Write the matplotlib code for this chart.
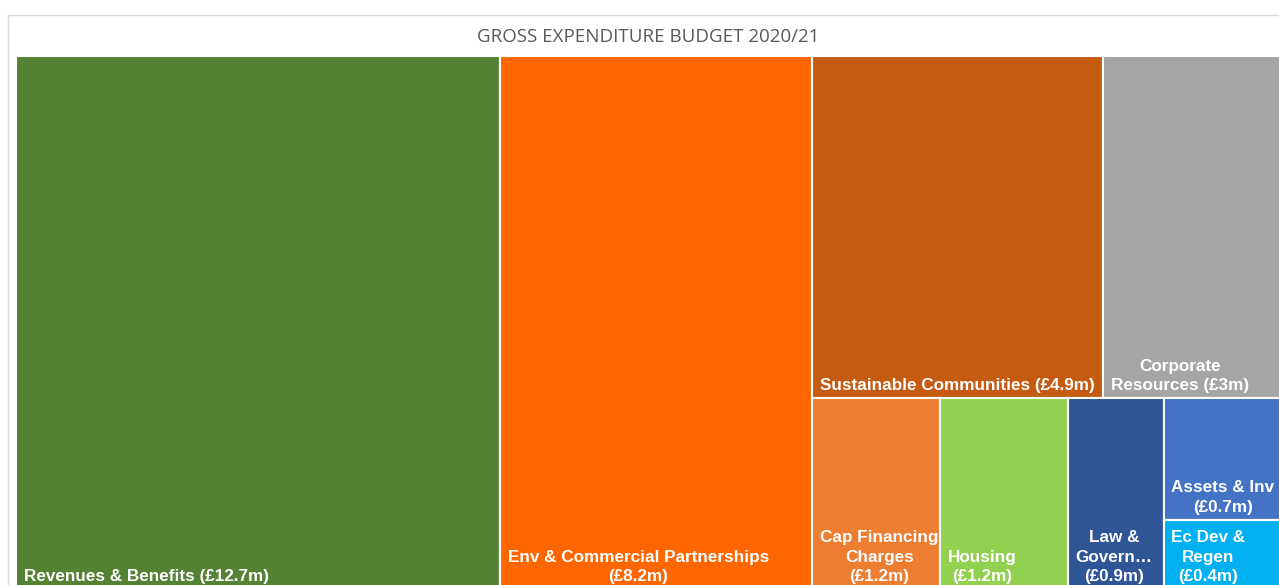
import matplotlib.pyplot as plt
from matplotlib.patches import Rectangle

# Gross expenditure budget 2020/21 by service area, £m
title = 'GROSS EXPENDITURE BUDGET 2020/21'
services = ['Revenues & Benefits', 'Env & Commercial Partnerships', 'Sustainable Communities',
            'Corporate Resources', 'Cap Financing Charges', 'Housing', 'Law & Governance',
            'Assets & Inv', 'Ec Dev & Regen']
spend = [12.7, 8.2, 4.9, 3.0, 1.2, 1.2, 0.9, 0.7, 0.4]
# labels as Excel wrapped them in the tiles
labels = ['Revenues & Benefits (£12.7m)', 'Env & Commercial Partnerships\n(£8.2m)',
          'Sustainable Communities (£4.9m)', 'Corporate\nResources (£3m)',
          'Cap Financing\nCharges\n(£1.2m)', 'Housing\n(£1.2m)', 'Law &\nGovern…\n(£0.9m)',
          'Assets & Inv\n(£0.7m)', 'Ec Dev &\nRegen\n(£0.4m)']
colours = ['#548235', '#FF6600', '#C55A11', '#A5A5A5', '#ED7D31', '#92D050', '#2F5597',
           '#4472C4', '#00B0F0']


def squarify(values, x, y, w, h):
    # plain squarified treemap, y grows downwards
    scale = w * h / sum(values)
    areas = [v * scale for v in values]

    def worst(row, side):
        s = sum(row)
        return max(max(side * side * r / (s * s), s * s / (side * side * r)) for r in row)

    rects = []
    i = 0
    while i < len(areas):
        side = min(w, h)
        row = [areas[i]]
        i += 1
        while i < len(areas) and worst(row + [areas[i]], side) <= worst(row, side):
            row.append(areas[i])
            i += 1
        s = sum(row)
        if w >= h:
            cw = s / h
            yy = y
            for a in row:
                rects.append((x, yy, cw, a / cw))
                yy += a / cw
            x += cw
            w -= cw
        else:
            rh = s / w
            xx = x
            for a in row:
                rects.append((xx, y, a / rh, rh))
                xx += a / rh
            y += rh
            h -= rh
    return rects


W, H = 1265, 533
fig = plt.figure(figsize=(12.79, 5.85), dpi=100)
# chart area border (runs off the right and bottom like the screenshot)
fig.patches.append(Rectangle((8 / 1279, -0.1), 1.1, 1.1 - 15 / 585,
                             transform=fig.transFigure, facecolor='none',
                             edgecolor='#D9D9D9', lw=1, zorder=-1))

ax = fig.add_axes([16 / 1279, 1 - 589 / 585, W / 1279, H / 585])
ax.set_xlim(0, W)
ax.set_ylim(H, 0)
ax.axis('off')

for (rx, ry, rw, rh), lab, col in zip(squarify(spend, 0, 0, W, H), labels, colours):
    ax.add_patch(Rectangle((rx, ry), rw, rh, facecolor=col, edgecolor='white', lw=1.5))
    ax.annotate(lab, xy=(rx, ry + rh), xytext=(5.5, 3.5), textcoords='offset points',
                ha='left', va='bottom', multialignment='center', color='white',
                fontsize=12.3, fontweight='bold', family='Liberation Sans',
                linespacing=1.38, annotation_clip=False)

fig.text((16 + 16 + W) / 2 / 1279, 1 - 37 / 585, title, ha='center', va='center',
         fontsize=13.5, color='#595959', family='Open Sans')

fig.savefig('out.png', dpi=100)
